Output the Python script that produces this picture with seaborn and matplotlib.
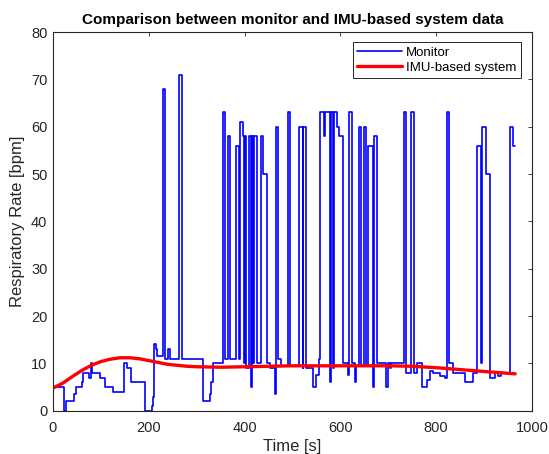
import numpy as np
import pandas as pd
import matplotlib
matplotlib.use("Agg")
import matplotlib.pyplot as plt
import seaborn as sb

# Monitor readings (step values) - time [s] and rate [bpm]
monitorTime = [0, 24, 28, 43, 49, 60, 62, 76, 79, 82, 98, 109, 126, 149, 155, 163,
               193, 206, 209, 211, 215, 218, 230, 233, 240, 244, 264, 270, 313, 327,
               330, 335, 354, 359, 366, 370, 382, 389, 391, 396, 398, 400, 404, 409,
               413, 415, 418, 420, 425, 434, 438, 446, 454, 463, 465, 470, 476, 490,
               494, 514, 521, 522, 529, 542, 550, 555, 558, 566, 568, 579, 581, 585,
               587, 593, 598, 606, 616, 619, 624, 630, 633, 639, 643, 650, 654, 658,
               669, 671, 676, 695, 700, 703, 706, 733, 738, 747, 754, 761, 771, 780,
               787, 794, 808, 819, 823, 827, 836, 861, 877, 886, 893, 895, 903, 912,
               923, 929, 936, 954, 961, 965]
monitorRate = [5, 0, 2, 3.5, 5, 6, 8, 7, 10, 8, 7, 5, 4, 10, 9, 6,
               0, 1, 3, 14, 13, 11.5, 68, 11, 13, 11, 71, 11, 2, 3.5,
               6, 10, 63, 11, 58, 11, 56, 11, 61, 58, 10, 58, 9, 58,
               5, 58, 10, 58, 10, 58, 50, 10, 9, 3.5, 60, 11, 9.5, 63,
               9.5, 60, 9, 60, 9, 5, 7.5, 11, 63, 58, 63, 6, 63, 9,
               63, 60, 58, 10, 7.5, 63, 10, 6, 9.5, 60, 9.5, 60, 9.5, 56,
               5, 58, 10, 5, 10, 9, 10, 63, 8, 63, 8, 10, 5, 6.5,
               8.5, 8, 7.3, 7, 63, 10, 8, 6, 8, 56, 10, 60, 50, 7,
               8, 7.3, 8, 60, 56, 56]

# IMU-based estimate (smooth curve)
imuTime = [0, 20, 40, 60, 80, 100, 120, 140, 160, 180, 200, 220, 240, 260, 280, 300,
           350, 400, 450, 500, 550, 600, 650, 700, 750, 800, 850, 900, 965]
imuRate = [4.8, 5.8, 7.2, 8.5, 9.6, 10.4, 10.9, 11.2, 11.2, 11.0, 10.6, 10.2, 9.8, 9.6, 9.4, 9.3,
           9.2, 9.3, 9.4, 9.5, 9.5, 9.5, 9.5, 9.5, 9.4, 9.1, 8.7, 8.3, 7.8]

df_monitor = pd.DataFrame({"Time": monitorTime, "Rate": monitorRate})
df_imu = pd.DataFrame({"Time": imuTime, "Rate": imuRate})

sb.set_style("white")
plt.rcParams['font.family'] = ['Liberation Sans', 'DejaVu Sans']
axColor = '#262626'

fig = plt.figure(figsize=(5.49, 4.54), dpi=100)
ax = fig.add_axes([0.0965, 0.0952, 0.8725, 0.8343])

sb.lineplot(data=df_monitor, x="Time", y="Rate", ax=ax, color=(0, 0, 1),
            linewidth=1.2, drawstyle='steps-post', label="Monitor")
sb.lineplot(data=df_imu, x="Time", y="Rate", ax=ax, color=(1, 0, 0),
            linewidth=2.4, label="IMU-based system")

ax.set_xlim(0, 1000)
ax.set_ylim(0, 80)
ax.set_xticks(np.arange(0, 1001, 200))
ax.set_yticks(np.arange(0, 81, 10))
ax.tick_params(direction='in', length=3, width=0.6, colors=axColor, labelsize=10.5,
               top=True, right=True, labeltop=False, labelright=False)
ax.tick_params(axis='x', pad=7)
ax.tick_params(axis='y', pad=4)
for s in ax.spines.values():
    s.set_color(axColor)
    s.set_linewidth(0.8)

ax.set_xlabel("Time [s]", fontsize=12, color=axColor, labelpad=3)
ax.set_ylabel("Respiratory Rate [bpm]", fontsize=12, color=axColor, labelpad=4)
ax.set_title("Comparison between monitor and IMU-based system data",
             fontsize=11, fontweight='bold', color='black', pad=6)

leg = ax.legend(loc='upper right', bbox_to_anchor=(0.977, 0.974), fontsize=9.5,
                frameon=True, fancybox=False, edgecolor=axColor, framealpha=1,
                handlelength=3.4, handletextpad=0.3, borderpad=0.35, labelspacing=0.2,
                borderaxespad=0)
leg.get_frame().set_linewidth(0.7)
for t in leg.get_texts():
    t.set_color('black')

plt.savefig("out.png", dpi=100)
